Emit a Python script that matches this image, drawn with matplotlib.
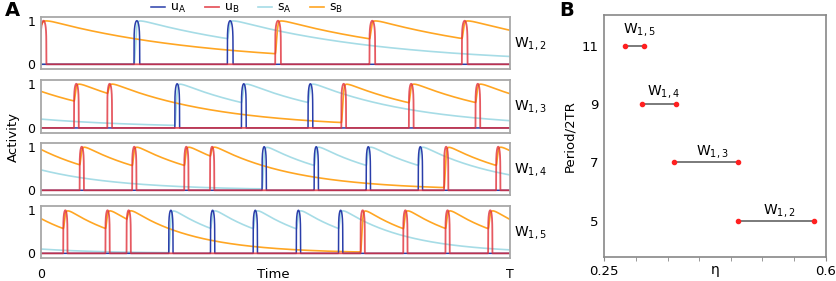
import numpy as np
import matplotlib
matplotlib.use('Agg')
import matplotlib.pyplot as plt

plt.rcParams['font.family'] = 'DejaVu Sans'
plt.rcParams['mathtext.default'] = 'regular'

# --- panel A: spike onsets (fraction of T) ---
panel_names = ['$W_{1,2}$', '$W_{1,3}$', '$W_{1,4}$', '$W_{1,5}$']
spikes_A = [
    [0.199, 0.398],
    [0.286, 0.428, 0.570],
    [0.472, 0.583, 0.694, 0.805],
    [0.273, 0.362, 0.453, 0.545, 0.635],
]
spikes_B = [
    [0.0, 0.500, 0.701, 0.898],
    [0.071, 0.142, 0.641, 0.785, 0.927],
    [0.083, 0.195, 0.306, 0.361, 0.860, 0.971],
    [0.048, 0.138, 0.183, 0.682, 0.773, 0.863, 0.954],
]
sA_start = [0.0, 0.20, 0.47, 0.10]
sB_start = [0.90, 0.83, 0.94, 0.81]
tau_s = [0.34, 0.23, 0.175, 0.14]      # decay of s in units of T
pulse_w = [0.012, 0.010, 0.009, 0.009]  # width of u pulses in units of T

# --- panel B ---
periods = [5, 7, 9, 11]
eta_lo = [0.461, 0.360, 0.310, 0.283]
eta_hi = [0.581, 0.462, 0.363, 0.312]
seg_labels = ['$W_{1,2}$', '$W_{1,3}$', '$W_{1,4}$', '$W_{1,5}$']

c_uA = '#2a3eaa'
c_uB = '#e0303a'
c_sA = '#a6dce6'
c_sB = '#ffa623'


def pulses(t, onsets, w):
    u = np.zeros_like(t)
    for t0 in onsets:
        m = (t >= t0) & (t <= t0 + w)
        u[m] = np.clip(np.sin(np.pi * (t[m] - t0) / w), 0, None) ** 0.15
    return u


def gating(t, u, s0, tau, r, k=800.0):
    # synaptic variable driven by a slightly lingering copy of the pulse
    s = np.empty_like(t)
    s[0] = s0
    g = 0.0
    dt = t[1] - t[0]
    for i in range(1, len(t)):
        g += dt * (u[i - 1] - g) / r
        s[i] = s[i - 1] + dt * (-s[i - 1] / tau + k * g * (1 - s[i - 1]))
    return s


W, H = 837, 281
fig = plt.figure(figsize=(W / 100, H / 100), dpi=100)

# pixel boxes (top, bottom) of the four trace panels
boxes = [(16.7, 69.0), (79.7, 132.7), (142.7, 195.0), (206.3, 258.0)]
x0, x1 = 40.7, 509.7

t = np.linspace(0, 1, 20001)
axes_a = []
for i, (top, bot) in enumerate(boxes):
    ax = fig.add_axes([x0 / W, 1 - bot / H, (x1 - x0) / W, (bot - top) / H])
    axes_a.append(ax)
    uA = pulses(t, spikes_A[i], pulse_w[i])
    uB = pulses(t, spikes_B[i], pulse_w[i])
    sA = gating(t, uA, sA_start[i], tau_s[i], 0.35 * pulse_w[i])
    sB = gating(t, uB, sB_start[i], tau_s[i], 0.35 * pulse_w[i])
    ax.plot(t, sA, color=c_sA, lw=1.2, label='$s_A$')
    ax.plot(t, sB, color=c_sB, lw=1.2, label='$s_B$')
    ax.plot(t, uA, color=c_uA, lw=1.1, label='$u_A$')
    ax.plot(t, uB, color=c_uB, lw=1.3, alpha=0.8, label='$u_B$')
    ax.set_xlim(0, 1)
    ax.set_ylim(-0.108, 1.092)
    ax.set_yticks([0, 1])
    ax.tick_params(axis='y', length=0, labelsize=9, pad=4)
    if i < 3:
        ax.set_xticks([])
    else:
        ax.set_xticks([0, 1])
        ax.set_xticklabels(['0', 'T'])
        ax.tick_params(axis='x', length=0, labelsize=9, pad=7)
    for sp in ax.spines.values():
        sp.set_color('#a8a8a8')
        sp.set_linewidth(1.3)
    ax.text(1.01, 0.49, panel_names[i], transform=ax.transAxes,
            fontsize=10, va='center', ha='left')

fig.text(273 / W, 1 - 275 / H, 'Time', fontsize=9.5, ha='center', va='center')
fig.text(13 / W, 1 - 137 / H, 'Activity', rotation=90, fontsize=9.5,
         ha='center', va='center')

h, l = axes_a[0].get_legend_handles_labels()
order = [2, 3, 0, 1]
fig.legend([h[j] for j in order], [l[j] for j in order], ncol=4,
           loc='center', bbox_to_anchor=(247 / W, 1 - 8 / H), frameon=False,
           fontsize=9, handlelength=1.1, handletextpad=0.4, columnspacing=1.5,
           borderpad=0)

fig.text(5 / W, 1 - 10 / H, 'A', fontsize=14, fontweight='bold', va='center')
fig.text(559 / W, 1 - 10 / H, 'B', fontsize=14, fontweight='bold', va='center')

# --- panel B ---
bx = fig.add_axes([604.3 / W, 1 - 257 / H, 221.4 / W, 242 / H])
for lo, hi, p in zip(eta_lo, eta_hi, periods):
    bx.plot([lo, hi], [p, p], color='#707070', lw=1.3, zorder=1)
    bx.scatter([lo, hi], [p, p], color='#ff2020', s=9, zorder=2)

label_xy = [(0.527, 5.36), (0.421, 7.38), (0.344, 9.42), (0.305, 11.55)]
for (lx, ly), txt in zip(label_xy, seg_labels):
    bx.text(lx, ly, txt, fontsize=10, ha='center', va='center')

bx.set_xlim(0.25, 0.6)
bx.set_ylim(3.76, 12.05)
bx.set_xticks([0.25, 0.6])
bx.set_xticklabels(['0.25', '0.6'])
bx.set_xticks(np.arange(0.30, 0.56, 0.05), minor=True)
bx.set_yticks(periods)
bx.tick_params(axis='x', which='both', length=3, color='#888888',
               labelsize=9.5, pad=3)
bx.tick_params(axis='y', length=0, labelsize=9.5, pad=4)
bx.set_xlabel('η', fontsize=10, labelpad=-11)
bx.set_ylabel('Period/2TR', fontsize=9.5, labelpad=4)
for sp in bx.spines.values():
    sp.set_color('#888888')
    sp.set_linewidth(1.2)

fig.savefig('out.png', dpi=100)
